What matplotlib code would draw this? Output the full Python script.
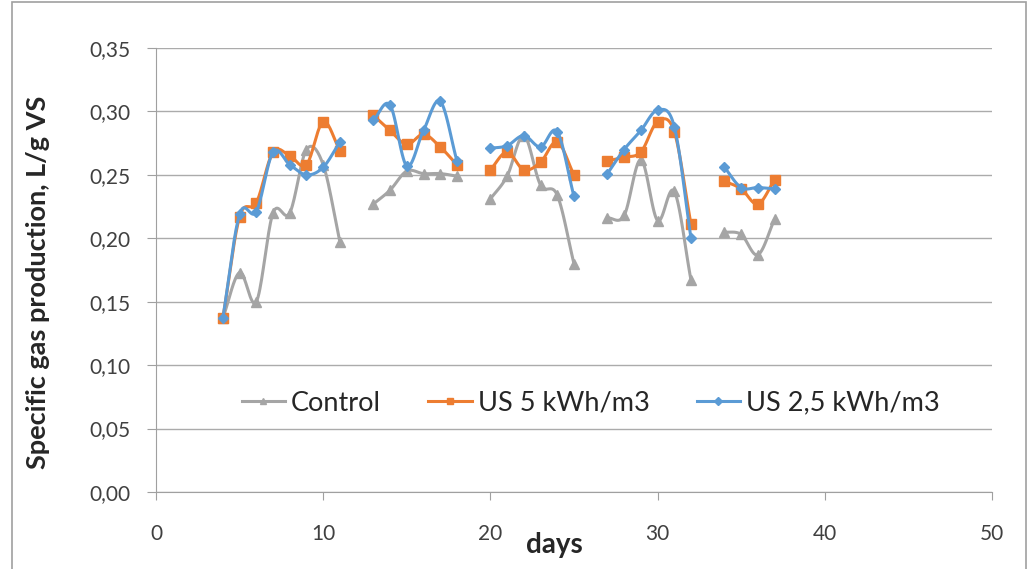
import numpy as np
import matplotlib.pyplot as plt
from matplotlib.patches import Rectangle
from matplotlib.ticker import FuncFormatter

plt.rcParams['font.family'] = ['Lato', 'DejaVu Sans']

days = [4, 5, 6, 7, 8, 9, 10, 11,
        13, 14, 15, 16, 17, 18,
        20, 21, 22, 23, 24, 25,
        27, 28, 29, 30, 31, 32,
        34, 35, 36, 37]

control = [0.137, 0.173, 0.150, 0.220, 0.220, 0.270, 0.258, 0.197,
           0.227, 0.238, 0.253, 0.251, 0.251, 0.249,
           0.231, 0.249, 0.281, 0.242, 0.234, 0.180,
           0.216, 0.218, 0.262, 0.214, 0.237, 0.167,
           0.205, 0.203, 0.187, 0.215]

us5 = [0.137, 0.217, 0.228, 0.268, 0.265, 0.258, 0.292, 0.269,
       0.297, 0.285, 0.274, 0.282, 0.272, 0.258,
       0.254, 0.268, 0.254, 0.260, 0.276, 0.250,
       0.261, 0.264, 0.268, 0.292, 0.284, 0.211,
       0.245, 0.239, 0.227, 0.246]

us25 = [0.137, 0.219, 0.221, 0.268, 0.258, 0.250, 0.256, 0.276,
        0.293, 0.305, 0.257, 0.285, 0.308, 0.261,
        0.271, 0.273, 0.281, 0.272, 0.284, 0.233,
        0.251, 0.270, 0.285, 0.301, 0.288, 0.200,
        0.256, 0.240, 0.240, 0.239]

series = [("Control", control, "#A5A5A5", "^", 7),
          ("US 5 kWh/m3", us5, "#ED7D31", "s", 7),
          ("US 2,5 kWh/m3", us25, "#5B9BD5", "D", 5.5)]


def smooth(x, y, n=20):
    # catmull-rom curve through the points, like excel's smoothed line
    x = np.asarray(x, float)
    y = np.asarray(y, float)
    if len(x) < 3:
        return x, y
    px = np.concatenate([[2 * x[0] - x[1]], x, [2 * x[-1] - x[-2]]])
    py = np.concatenate([[2 * y[0] - y[1]], y, [2 * y[-1] - y[-2]]])
    t = np.linspace(0, 1, n)
    xs, ys = [], []
    for i in range(1, len(px) - 2):
        for p, out in ((px, xs), (py, ys)):
            p0, p1, p2, p3 = p[i - 1], p[i], p[i + 1], p[i + 2]
            out.append(0.5 * ((2 * p1) + (-p0 + p2) * t
                              + (2 * p0 - 5 * p1 + 4 * p2 - p3) * t ** 2
                              + (-p0 + 3 * p1 - 3 * p2 + p3) * t ** 3))
    return np.concatenate(xs), np.concatenate(ys)


def runs(x):
    # split into groups of consecutive days
    groups, start = [], 0
    for i in range(1, len(x)):
        if x[i] - x[i - 1] > 1:
            groups.append((start, i))
            start = i
    groups.append((start, len(x)))
    return groups


fig = plt.figure(figsize=(10.29, 5.69), dpi=100)
ax = fig.add_axes([0.1516, 0.1353, 0.8124, 0.7803])

for name, vals, col, mk, ms in series:
    for a, b in runs(days):
        sx, sy = smooth(days[a:b], vals[a:b])
        ax.plot(sx, sy, color=col, lw=2.2, solid_capstyle='round')
        ax.plot(days[a:b], vals[a:b], ls='none', marker=mk, color=col, ms=ms)
    ax.plot([], [], color=col, lw=2.2, marker=mk, ms=ms * 0.7, label=name)

ax.set_xlim(0, 50)
ax.set_ylim(0, 0.35)
ax.set_xticks(range(0, 51, 10))
ax.set_yticks(np.arange(0, 0.351, 0.05))
ax.yaxis.set_major_formatter(FuncFormatter(lambda v, p: f"{v:.2f}".replace(".", ",")))
ax.grid(axis='y', color='#ABABAB', lw=1)
ax.set_axisbelow(True)
for s in ['top', 'right']:
    ax.spines[s].set_visible(False)
ax.spines['bottom'].set_color('#A0A0A0')
ax.spines['left'].set_color('#A0A0A0')
ax.tick_params(axis='both', labelsize=15, colors='#A0A0A0', labelcolor='#404040')
ax.tick_params(axis='y', length=6.5, pad=12)
ax.tick_params(axis='x', length=6, pad=17)

ax.set_ylabel("Specific gas production, L/g VS", fontsize=19.5, fontweight='bold', color='#262626')
ax.yaxis.set_label_coords(-0.127, 0.473)
ax.set_xlabel("days", fontsize=20, fontweight='bold', color='#262626')
ax.xaxis.set_label_coords(0.476, -0.09)

ax.legend(loc='center', bbox_to_anchor=(0.52, 0.2), ncol=3, frameon=False,
          fontsize=19.5, handlelength=1.6, handletextpad=0.22, columnspacing=1.75,
          labelcolor='#262626')

fig.patches.append(Rectangle((12 / 1029, -0.01), 1014 / 1029, 1.0065, transform=fig.transFigure,
                             fill=False, edgecolor='#A0A0A0', lw=1.2))

fig.savefig("out.png", dpi=100)
